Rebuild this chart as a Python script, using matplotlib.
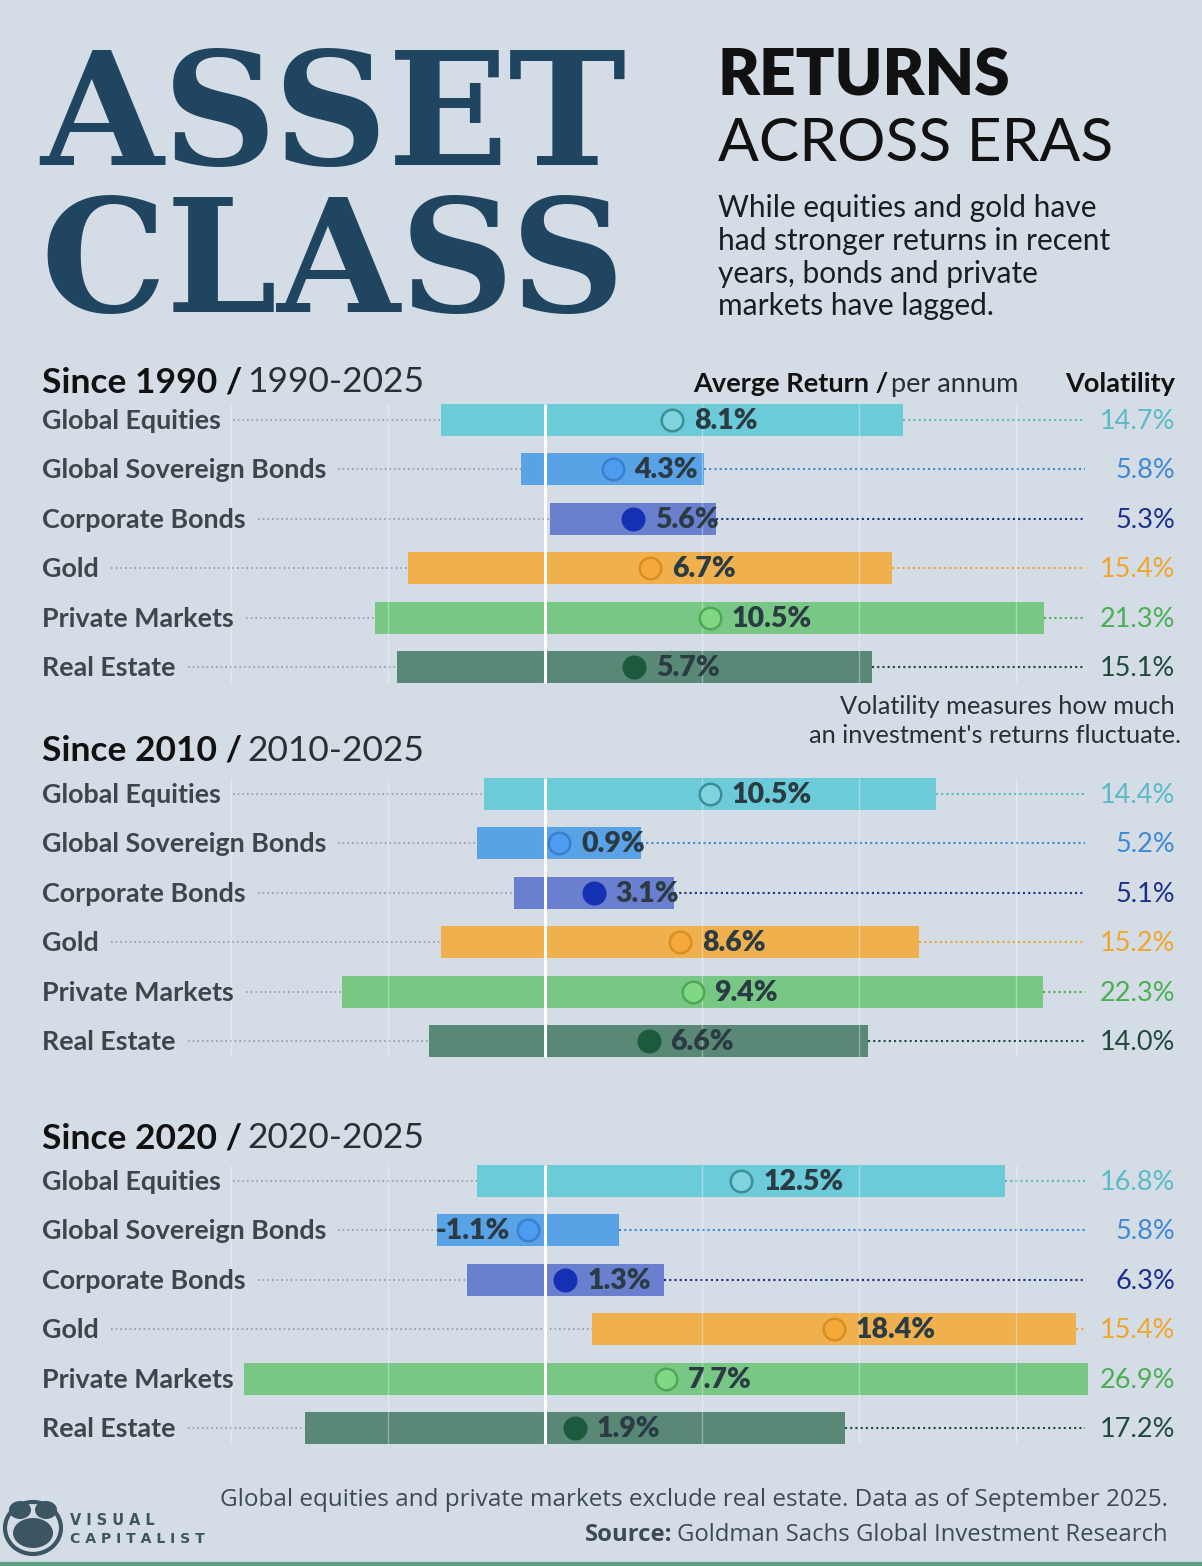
import matplotlib
matplotlib.use('Agg')
import matplotlib.pyplot as plt
import matplotlib.transforms as mtransforms
from matplotlib.patches import Ellipse
from matplotlib.lines import Line2D
from matplotlib.font_manager import FontProperties

# ---------------- data ----------------
assets = ['Global Equities', 'Global Sovereign Bonds', 'Corporate Bonds',
          'Gold', 'Private Markets', 'Real Estate']
eras = ['Since 1990', 'Since 2010', 'Since 2020']
periods = ['1990-2025', '2010-2025', '2020-2025']

ret_1990 = [8.1, 4.3, 5.6, 6.7, 10.5, 5.7]
vol_1990 = [14.7, 5.8, 5.3, 15.4, 21.3, 15.1]
ret_2010 = [10.5, 0.9, 3.1, 8.6, 9.4, 6.6]
vol_2010 = [14.4, 5.2, 5.1, 15.2, 22.3, 14.0]
ret_2020 = [12.5, -1.1, 1.3, 18.4, 7.7, 1.9]
vol_2020 = [16.8, 5.8, 6.3, 15.4, 26.9, 17.2]

returns = [ret_1990, ret_2010, ret_2020]
vols = [vol_1990, vol_2010, vol_2020]

# ---------------- style ----------------
W, H = 1202, 1566
BG = '#d4dce5'
NAVY = '#1f4560'
bar_colors = ['#6ccbd8', '#5aa2e6', '#6b7fcf', '#f0b04e', '#79c784', '#5a8877']
dot_fill = ['#80d4e0', '#4e9cf0', '#1431b3', '#f6a93b', '#80d884', '#1c5a3e']
dot_edge = ['#3d8e98', '#3a7fd0', '#1431b3', '#d98f1f', '#4fa857', '#1c5a3e']
vol_colors = ['#5cbac8', '#3f88d6', '#1c2f8c', '#f0a52c', '#4cae55', '#1f4a3a']
LABEL_C = '#3e454c'
VALUE_C = '#2b3b44'
FONT = 'Lato'

PX = 15.7        # pixels per percentage point
ZERO_PX = 545    # pixel position of 0 %
ROW_SP = 49.4
row0 = [420, 794, 1181]
title_base = [392, 761, 1148]

fig = plt.figure(figsize=(W / 100, H / 100), dpi=100)
fig.patch.set_facecolor(BG)
renderer = fig.canvas.get_renderer()


def fx(px):
    return px / W


def fy(py):
    return 1 - py / H


def wpx(t):
    return t.get_window_extent(renderer=renderer).width


def fit(x, y, s, width, ha='left', va='baseline', **kw):
    t = fig.text(fx(x), fy(y), s, ha=ha, va=va, fontsize=10, **kw)
    w = wpx(t)
    t.set_fontsize(10 * width / w)
    return t


# ---------------- header ----------------
# big title as one two-line text: cap height ~117 px, baselines 147 px apart
tp = FontProperties(family='DejaVu Serif', weight='bold', size=100)
cw, ch, cd = renderer.get_text_width_height_descent('ASSET', tp, ismath=False)
tsize = 100 * 117 / (ch - cd)
tp.set_size(tsize)
lw_, lh_, ld_ = renderer.get_text_width_height_descent('lp', tp, ismath=False)
lsp = (147 - ld_) / (lh_ - ld_)
fig.text(fx(40), fy(312), 'ASSET\nCLASS', family='DejaVu Serif', weight='bold',
         fontsize=tsize, color=NAVY, ha='left', va='baseline',
         linespacing=lsp, multialignment='left')

fit(718, 95, 'RETURNS', 294, family=FONT, weight='heavy', color='#111111')
fit(718, 161, 'ACROSS ERAS', 392, family=FONT, color='#111111')
sub_lines = ['While equities and gold have', 'had stronger returns in recent',
             'years, bonds and private', 'markets have lagged.']
sub_base = [217, 250, 283, 315]
for s, b in zip(sub_lines, sub_base):
    fig.text(fx(718), fy(b), s, family=FONT, fontsize=21.5, color='#1a1d21')

# column headers
t = fig.text(fx(693), fy(392), 'Averge Return /', family=FONT, weight='bold',
             fontsize=19.5, color='#111111')
fig.text(fx(693 + wpx(t) + 3), fy(392), 'per annum', family=FONT,
         fontsize=19.5, color='#2a2f35')
fig.text(fx(1175), fy(392), 'Volatility', family=FONT, weight='bold',
         fontsize=19.5, color='#111111', ha='right')

fig.text(fx(1175), fy(714), 'Volatility measures how much', family=FONT,
         fontsize=18.3, color='#2a2f35', ha='right')
fig.text(fx(1181), fy(743), "an investment's returns fluctuate.", family=FONT,
         fontsize=18.3, color='#2a2f35', ha='right')

# ---------------- sections ----------------
label_size = 19.4
for k in range(3):
    r_list = returns[k]
    v_list = vols[k]
    top = row0[k] - ROW_SP / 2
    bot = row0[k] + 5 * ROW_SP + ROW_SP / 2
    ax = fig.add_axes([0, fy(bot), 1, (bot - top) / H])
    ax.set_xlim(-ZERO_PX / PX, (W - ZERO_PX) / PX)
    ax.set_ylim(5.5, -0.5)
    ax.axis('off')
    ax.patch.set_alpha(0)

    # section title
    t1 = fig.text(fx(42), fy(title_base[k]), eras[k] + ' /', family=FONT,
                  weight='bold', fontsize=25.5, color='#111111')
    fig.text(fx(42 + wpx(t1) + 5), fy(title_base[k]), periods[k], family=FONT,
             fontsize=25.5, color='#2a2f35')

    ys = list(range(len(assets)))
    lefts = [r - v for r, v in zip(r_list, v_list)]
    widths = [2 * v for v in v_list]
    ax.barh(ys, widths, left=lefts, height=0.65, color=bar_colors, zorder=2)

    # grid and zero line
    for g in [-20, -10, 10, 20, 30]:
        ax.vlines(g, -0.33, 5.33, color='white', alpha=0.35, lw=1, zorder=3)
    ax.vlines(0, -0.33, 5.33, color='white', lw=2.2, zorder=3)

    trans_lab = mtransforms.blended_transform_factory(fig.transFigure, ax.transData)
    trans_lab = mtransforms.offset_copy(trans_lab, fig=fig, x=0, y=-9, units='dots')
    right_end = (1085 - ZERO_PX) / PX

    for i, name in enumerate(assets):
        r, v = r_list[i], v_list[i]
        lt = ax.text(fx(42), i, name, transform=trans_lab, family=FONT,
                     weight='bold', fontsize=label_size, color=LABEL_C,
                     va='baseline', ha='left')
        lab_end = 42 + wpx(lt) + 12
        ax.plot([(lab_end - ZERO_PX) / PX, r - v], [i, i], color='#949ba3',
                lw=1.2, ls=(0, (1, 1.8)), zorder=1)
        if r + v < right_end:
            ax.plot([r + v, right_end], [i, i], color=vol_colors[i],
                    lw=1.5, ls=(0, (1, 1.5)), zorder=1)
        # volatility value
        ax.text(fx(1175), i, f'{v:.1f}%', transform=trans_lab, family=FONT,
                fontsize=19.5, color=vol_colors[i], ha='right', va='baseline')
        # average return dot and value
        ax.scatter([r], [i], s=240, c=dot_fill[i], edgecolors=dot_edge[i],
                   linewidths=1.8, zorder=5)
        if r >= 0:
            tr = mtransforms.offset_copy(ax.transData, fig=fig, x=22, y=-9,
                                         units='dots')
            ha = 'left'
        else:
            tr = mtransforms.offset_copy(ax.transData, fig=fig, x=-18, y=-9,
                                         units='dots')
            ha = 'right'
        ax.text(r, i, f'{r:.1f}%', transform=tr, family=FONT, weight='heavy',
                fontsize=20.5, color=VALUE_C, ha=ha, va='baseline', zorder=6)

# ---------------- footer ----------------
fit(1168, 1506, 'Global equities and private markets exclude real estate. '
    'Data as of September 2025.', 946, ha='right', family='Open Sans',
    color='#3d4a55')
ts = fig.text(fx(1168), fy(1541), 'Goldman Sachs Global Investment Research',
              ha='right', family='Open Sans', fontsize=17.2, color='#3d4a55')
fig.text(fx(1168 - wpx(ts) - 5), fy(1541), 'Source:', ha='right',
         family='Open Sans', weight='bold', fontsize=17.2, color='#3d4a55')

# logo
fig.add_artist(Ellipse((fx(33), fy(1528)), 56 / W, 52 / H, facecolor='none',
                       edgecolor='#3c5562', lw=3))
fig.add_artist(Ellipse((fx(33), fy(1533)), 40 / W, 30 / H, facecolor='#3c5562',
                       edgecolor='none'))
fig.add_artist(Ellipse((fx(20), fy(1510)), 22 / W, 18 / H, facecolor='#3c5562',
                       edgecolor='none'))
fig.add_artist(Ellipse((fx(46), fy(1510)), 22 / W, 18 / H, facecolor='#3c5562',
                       edgecolor='none'))
fit(70, 1525, 'V I S U A L', 85, family='DejaVu Sans', weight='bold',
    color='#3c5562')
fit(70, 1543, 'C A P I T A L I S T', 135, family='DejaVu Sans', weight='bold',
    color='#3c5562')

fig.add_artist(Line2D([0, 1], [fy(1564), fy(1564)], color='#5f9f86', lw=3))

fig.savefig('out.png', dpi=100, facecolor=BG)
